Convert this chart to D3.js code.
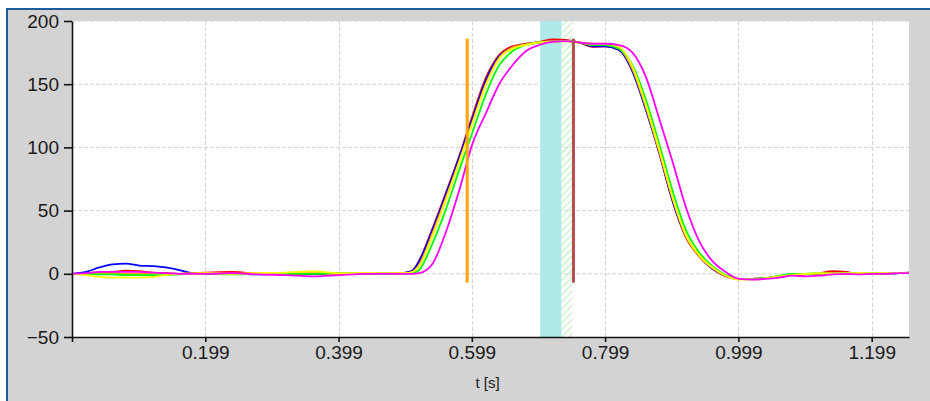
<!DOCTYPE html>
<html><head><meta charset="utf-8">
<script src="https://cdn.jsdelivr.net/npm/d3@7"></script>
<style>body{margin:0;background:#fff;overflow:hidden}</style>
</head><body><svg id="c" width="930" height="401"></svg>
<script>
// ---- data ----
const T = [-0.001,0.02,0.04,0.06,0.08,0.10,0.12,0.14,0.16,0.18,0.20,0.24,0.28,0.32,0.36,0.40,0.44,0.47,0.49,0.50,0.51,0.52,0.54,0.56,0.58,0.60,0.62,0.64,0.66,0.68,0.70,0.72,0.74,0.76,0.78,0.80,0.82,0.84,0.86,0.88,0.90,0.92,0.94,0.96,0.98,1.00,1.02,1.04,1.06,1.08,1.10,1.12,1.14,1.16,1.18,1.20,1.22,1.24,1.255];
const seriesBlue = [0,1.5,5,7.5,8,6.5,6,5,3,0.5,0,0,-0.5,0,0,0.5,0,0.5,0.5,1,2.5,10,35,63,92,123,153,172,179,181.5,183,184,184.5,183,180,180,177,160,130,96,58,30,14,4,-1.5,-4,-4,-3.5,-2,-0.5,0,-0.5,0,0.5,0,0.5,0,0.5,1];
const seriesRed = [0,0.5,1,1.5,2.5,2,1,0.5,0,0.5,1,1.5,0,0.5,0,0.5,0,0,0.5,1,2.5,10.5,36,64,93,125,155,173,180,182,183.5,185.5,185,183,179.5,180,177,161,131,96,58,29,14,4,-2,-4,-4,-3.5,-2,-1,-0.5,0.5,2,1.5,0,0.5,0.5,0.5,1];
const seriesOrange = [0,0,0.5,0.5,0,0,0.5,0,0,0.5,0.5,0,0.5,0,0.5,0,0.5,0,0.5,0.5,1.5,7,32,60,89,120,150,171,179,181.5,183,184,184,183,181,181,178,162,132,97,60,30,14,4.5,-1.5,-4,-4,-3.5,-2,-0.5,0,0,0.5,0,0.5,0,0.5,0.5,0.5];
const seriesYellow = [0,-1,-2.5,-3,-3,-3,-2.5,-1,0,0,0.5,0,0.5,1,2,0.5,0.5,0.5,0.5,0.5,1.5,6,30,58,88,119,149,170,178,181,183,183.5,184,183,182,182,179.5,164,134,99,61,31,15,5,-1.5,-4.5,-4.5,-3.5,-2,-1,0,0.5,0,0.5,0.5,0.5,0.5,0.5,1];
const seriesGreen = [0,0,-0.5,-0.5,-1,-1,-1,-1,-0.5,0,0,-0.5,0,0,0,0.5,0,0,0,0,0.5,3,24,51,82,112,142,165,176,181,183,183.5,184,183,181,181,178,165,138,103,66,35,17,6,-1,-4,-4,-3.5,-1.5,0,0,0.5,0,0.5,0,0.5,0,0.5,0.5];
const seriesMagenta = [0,0.5,1.5,1.5,1.5,1.5,1,0.5,0,0,0,0.5,-0.5,-1,-2,-1,0,0,0,0,0,0.5,8,33,66,103,127,150,165,176,181,183.5,184,183,182,182,181,175,156,123,89,53,26,10,1.5,-4,-4.5,-4,-3,-1.5,-2,-1.5,-0.5,0,-0.5,0,0,0.5,0.5];
const seriesColors = ["#ff0000","#0000ff","#ffa500","#00ff00","#ffff00","#ff00ff"];
const yTicks = [200,150,100,50,0,-50];
const xTicks = [-0.001,0.199,0.399,0.599,0.799,0.999,1.199];
const xTickLabels = ["","0.199","0.399","0.599","0.799","0.999","1.199"];
const xTitle = "t [s]";
const markerOrangeT = 0.592, markerBrownT = 0.7515;
const markerRange = [-7, 186];
const bandCyan = [0.7015, 0.7335];
const bandHatch = [0.7335, 0.7500];

// ---- drawing ----
const svg = d3.select("#c");
const L = 72, R = 909, TOP = 21, BOT = 337;
const x = d3.scaleLinear().domain([-0.001, 1.255]).range([L, R]);
const y = d3.scaleLinear().domain([-50, 200]).range([BOT, TOP]);

// frame
svg.append("rect").attr("x",8).attr("y",10).attr("width",922).attr("height",391).attr("fill","#d3d3d3");
svg.append("line").attr("x1",7).attr("x2",7).attr("y1",9).attr("y2",401).attr("stroke","#1f5b99").attr("stroke-width",2);
svg.append("line").attr("x1",6).attr("x2",930).attr("y1",9).attr("y2",9).attr("stroke","#1f5b99").attr("stroke-width",2);

// plot area
svg.append("rect").attr("x",L).attr("y",TOP).attr("width",R-L).attr("height",BOT-TOP).attr("fill","#fff");

const defs = svg.append("defs");
const pat = defs.append("pattern").attr("id","hatch").attr("patternUnits","userSpaceOnUse")
  .attr("width",5).attr("height",5).attr("patternTransform","rotate(45)");
pat.append("line").attr("x1",0).attr("y1",0).attr("x2",0).attr("y2",5).attr("stroke","#8fe88f").attr("stroke-width",1.3);

// grid
const grid = svg.append("g").attr("stroke","#d3d3d3").attr("stroke-dasharray","4,2").attr("stroke-width",1);
yTicks.filter(v=>v>-50).forEach(v=>grid.append("line").attr("x1",L).attr("x2",R).attr("y1",y(v)).attr("y2",y(v)));
xTicks.filter(v=>v>0).forEach(v=>grid.append("line").attr("x1",Math.round(x(v))+0.5).attr("x2",Math.round(x(v))+0.5).attr("y1",TOP).attr("y2",BOT));

// bands
svg.append("rect").attr("x",x(bandCyan[0])).attr("y",TOP).attr("width",x(bandCyan[1])-x(bandCyan[0])).attr("height",BOT-TOP).attr("fill","#afe9e9");
svg.append("rect").attr("x",x(bandHatch[0])).attr("y",TOP).attr("width",x(bandHatch[1])-x(bandHatch[0])).attr("height",BOT-TOP).attr("fill","url(#hatch)");

// series
const allSeries = [seriesRed, seriesBlue, seriesOrange, seriesGreen, seriesYellow, seriesMagenta];
const line = d3.line().x((d,i)=>x(T[i])).y(d=>y(d)).curve(d3.curveMonotoneX);
allSeries.forEach((s,k)=>{
  svg.append("path").datum(s).attr("d",line).attr("fill","none").attr("stroke",seriesColors[k]).attr("stroke-width",1.8).attr("stroke-linejoin","round");
});

// markers
svg.append("line").attr("x1",x(markerOrangeT)).attr("x2",x(markerOrangeT)).attr("y1",y(markerRange[1])).attr("y2",y(markerRange[0])).attr("stroke","#ffa500").attr("stroke-width",3);
svg.append("line").attr("x1",x(markerBrownT)).attr("x2",x(markerBrownT)).attr("y1",y(markerRange[1])).attr("y2",y(markerRange[0])).attr("stroke","#b4504c").attr("stroke-width",3);

// axes
const font = "'Liberation Sans', Arial, sans-serif";
const ya = svg.append("g").attr("transform",`translate(${L},0)`)
  .call(d3.axisLeft(y).tickValues(yTicks).tickSize(8).tickSizeOuter(0).tickPadding(5));
const xa = svg.append("g").attr("transform",`translate(0,${BOT})`)
  .call(d3.axisBottom(x).tickValues(xTicks).tickFormat((d,i)=>xTickLabels[i]).tickSize(5).tickSizeOuter(0).tickPadding(4));
[ya,xa].forEach(g=>{
  g.select(".domain").attr("stroke","#111").attr("stroke-width",1.6);
  g.selectAll(".tick line").attr("stroke","#111").attr("stroke-width",1.6);
  g.selectAll(".tick text").attr("font-family",font).attr("font-size",19).attr("fill","#1a1a1a");
});

svg.append("text").attr("x",(L+R)/2-3).attr("y",388).attr("text-anchor","middle")
  .attr("font-family",font).attr("font-size",15).attr("fill","#1a1a1a").text(xTitle);
</script></body></html>
